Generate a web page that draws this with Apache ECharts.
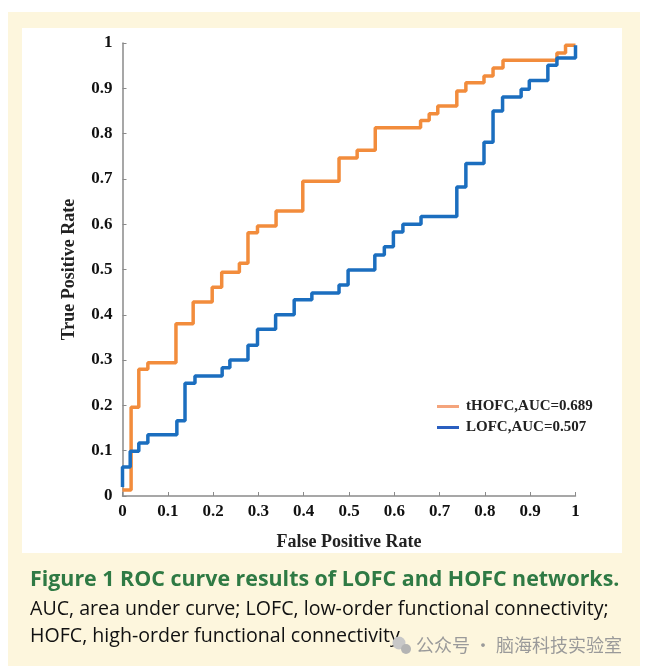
<!DOCTYPE html>
<html>
<head>
<meta charset="utf-8">
<script src="https://cdn.jsdelivr.net/npm/echarts@6/dist/echarts.min.js"></script>
<style>
  html, body { margin: 0; padding: 0; background: #fff; }
  #main { width: 645px; height: 672px; }
</style>
</head>
<body>
<div id="main"></div>
<script>
  // ROC points (false positive rate, true positive rate), drawn as steps
  var hofcFpr = [0, 0.019, 0.036, 0.056, 0.118, 0.156, 0.198, 0.219, 0.258, 0.277, 0.298, 0.339, 0.398, 0.478, 0.518, 0.558, 0.658, 0.677, 0.696, 0.738, 0.758, 0.798, 0.818, 0.840, 0.959, 0.978, 1];
  var hofcTpr = [0.013, 0.196, 0.280, 0.294, 0.380, 0.428, 0.461, 0.494, 0.514, 0.581, 0.596, 0.629, 0.695, 0.746, 0.763, 0.813, 0.829, 0.844, 0.861, 0.894, 0.912, 0.927, 0.945, 0.962, 0.978, 0.995, 0.995];

  var lofcFpr = [0, 0, 0.017, 0.036, 0.056, 0.120, 0.138, 0.160, 0.220, 0.237, 0.277, 0.298, 0.338, 0.379, 0.418, 0.478, 0.498, 0.557, 0.578, 0.598, 0.619, 0.659, 0.738, 0.758, 0.798, 0.818, 0.839, 0.880, 0.898, 0.939, 0.959, 1];
  var lofcTpr = [0.020, 0.064, 0.099, 0.117, 0.135, 0.166, 0.249, 0.265, 0.283, 0.300, 0.333, 0.368, 0.400, 0.433, 0.448, 0.466, 0.499, 0.532, 0.550, 0.583, 0.600, 0.617, 0.682, 0.734, 0.781, 0.850, 0.881, 0.898, 0.917, 0.951, 0.967, 0.995];

  var seriesNames = ['tHOFC,AUC=0.689', 'LOFC,AUC=0.507'];
  var captionTitle = 'Figure 1 ROC curve results of LOFC and HOFC networks.';
  var captionLines = [
    'AUC, area under curve; LOFC, low-order functional connectivity;',
    'HOFC, high-order functional connectivity.'
  ];
  var watermark = '公众号 · 脑海科技实验室';

  function zip(xs, ys) {
    return xs.map(function (x, i) { return [x, ys[i]]; });
  }

  var serif = '"Liberation Serif", "Times New Roman", serif';
  var axisColor = '#8a8a8a';

  var myChart = echarts.init(document.getElementById('main'));

  var option = {
    backgroundColor: '#fff',
    animation: false,
    grid: { left: 122.5, right: 69.5, top: 43, bottom: 176 },
    legend: {
      orient: 'vertical',
      left: 432,
      top: 394,
      itemWidth: 22,
      itemHeight: 3,
      itemGap: 6,
      icon: 'rect',
      textStyle: { fontFamily: serif, fontWeight: 'bold', fontSize: 15, color: '#222', padding: [0, 0, 0, 2] },
      data: [
        { name: seriesNames[0], itemStyle: { color: '#f4a47c' } },
        { name: seriesNames[1], itemStyle: { color: '#2a5fc0' } }
      ]
    },
    xAxis: {
      type: 'value',
      min: 0, max: 1, interval: 0.1,
      name: 'False Positive Rate',
      nameLocation: 'middle',
      nameGap: 37,
      nameTextStyle: { fontFamily: serif, fontWeight: 'bold', fontSize: 18, color: '#222' },
      axisLine: { show: true, lineStyle: { color: axisColor, width: 1.5 } },
      axisTick: { show: true, inside: true, length: 4, lineStyle: { color: axisColor } },
      axisLabel: { fontFamily: serif, fontWeight: 'bold', fontSize: 17, color: '#111', margin: 7 },
      splitLine: { show: false }
    },
    yAxis: {
      type: 'value',
      min: 0, max: 1, interval: 0.1,
      name: 'True Positive Rate',
      nameLocation: 'middle',
      nameGap: 44,
      nameTextStyle: { fontFamily: serif, fontWeight: 'bold', fontSize: 18, color: '#222' },
      axisLine: { show: true, lineStyle: { color: axisColor, width: 1.5 } },
      axisTick: { show: true, inside: true, length: 4, lineStyle: { color: axisColor } },
      axisLabel: { fontFamily: serif, fontWeight: 'bold', fontSize: 17, color: '#111', margin: 10 },
      splitLine: { show: false }
    },
    series: [
      {
        name: seriesNames[0],
        type: 'line',
        step: 'end',
        showSymbol: false,
        data: zip(hofcFpr, hofcTpr),
        lineStyle: { color: '#f28c3c', width: 3.5 },
        itemStyle: { color: '#f28c3c' },
        z: 3
      },
      {
        name: seriesNames[1],
        type: 'line',
        step: 'end',
        showSymbol: false,
        data: zip(lofcFpr, lofcTpr),
        lineStyle: { color: '#1b6ebf', width: 3.5 },
        itemStyle: { color: '#1b6ebf' },
        z: 4
      }
    ],
    graphic: [
      { type: 'rect', z: -10, shape: { x: 8, y: 12, width: 632, height: 654 }, style: { fill: '#fdf6dd' } },
      { type: 'rect', z: -9, shape: { x: 22, y: 28, width: 600, height: 525 }, style: { fill: '#ffffff' } },
      {
        type: 'text', z: 5, x: 30, y: 580,
        style: { text: captionTitle, fill: '#2f7a44', font: 'bold 21.4px "Open Sans", Lato, sans-serif', verticalAlign: 'middle' }
      },
      {
        type: 'text', z: 5, x: 30, y: 609,
        style: { text: captionLines[0], fill: '#111', font: '19.6px "Open Sans", Lato, sans-serif', verticalAlign: 'middle' }
      },
      {
        type: 'text', z: 5, x: 30, y: 636,
        style: { text: captionLines[1], fill: '#111', font: '19.6px "Open Sans", Lato, sans-serif', verticalAlign: 'middle' }
      },
      { type: 'circle', z: 5, shape: { cx: 399, cy: 643, r: 6.5 }, style: { fill: '#c8c8c8' } },
      { type: 'circle', z: 5, shape: { cx: 406, cy: 649, r: 5 }, style: { fill: '#b4b4b4' } },
      {
        type: 'text', z: 5, x: 416, y: 645,
        style: { text: watermark, fill: '#9a9a9a', font: '18px "Noto Sans CJK SC", sans-serif', verticalAlign: 'middle' }
      }
    ]
  };

  myChart.setOption(option);
</script>
</body>
</html>
